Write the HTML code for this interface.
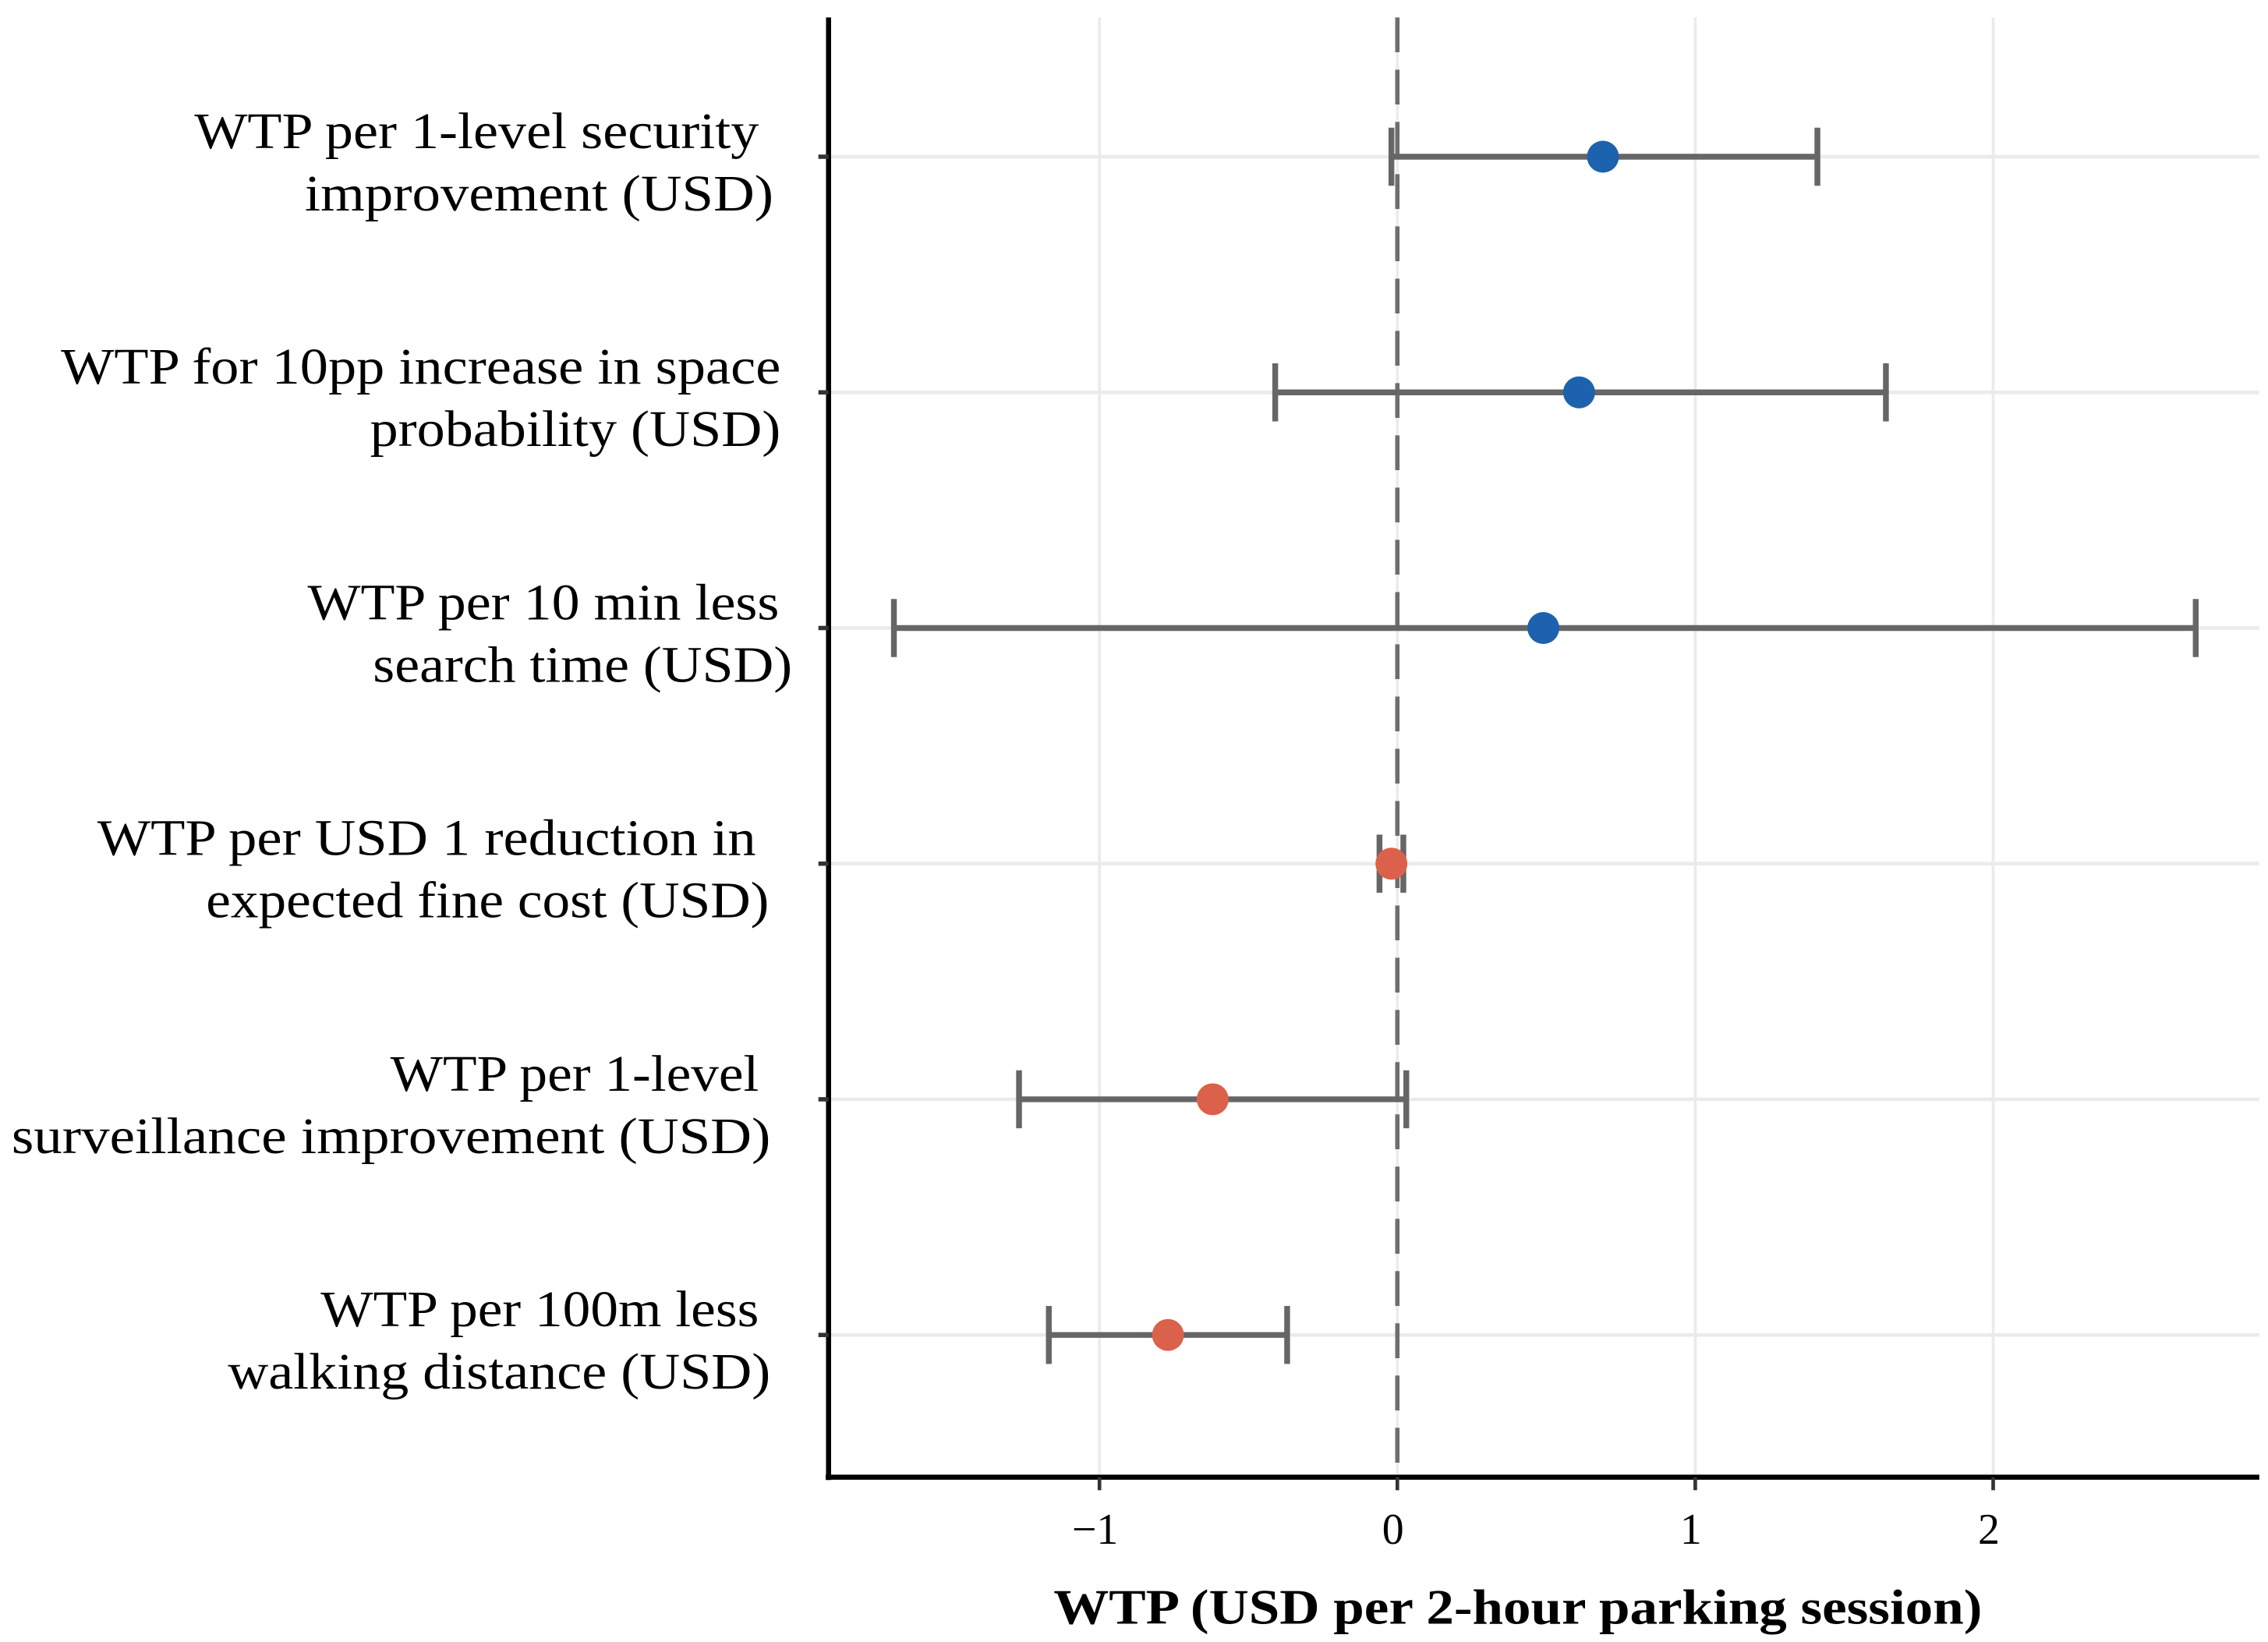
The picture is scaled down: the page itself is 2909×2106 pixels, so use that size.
<!DOCTYPE html>
<html><head><meta charset="utf-8"><style>
html,body{margin:0;padding:0;background:#fff;}
svg{display:block;}
text{font-family:"Liberation Serif",serif;fill:#000;}
</style></head><body>
<svg id="chart" width="2909" height="2106" viewBox="0 0 1563 1131.6" preserveAspectRatio="none" xmlns="http://www.w3.org/2000/svg"></svg>
<script>
const labelLine1 = ["WTP per 1-level security", "WTP for 10pp increase in space", "WTP per 10 min less", "WTP per USD 1 reduction in", "WTP per 1-level", "WTP per 100m less"];
const labelLine2 = ["improvement (USD)", "probability (USD)", "search time (USD)", "expected fine cost (USD)", "surveillance improvement (USD)", "walking distance (USD)"];
const estimates = [0.69, 0.61, 0.49, -0.02, -0.62, -0.77];
const lowerCI = [-0.02, -0.41, -1.69, -0.06, -1.27, -1.17];
const upperCI = [1.41, 1.64, 2.68, 0.02, 0.03, -0.37];
const signs = ["pos", "pos", "pos", "neg", "neg", "neg"];
const xTicks = [-1, 0, 1, 2];
const xTickLabels = ["\u22121", "0", "1", "2"];

const svgEl = document.getElementById('chart');
const NS = 'http://www.w3.org/2000/svg';
const plotLeft = 571, plotRight = 1557, plotTop = 12, plotBottom = 1018;
const xScale = v => 963 + v * 205.3;
const yScale = i => 108 + i * 162.4;
const lineStarts1 = [134, 42, 212, 67, 269, 221];
const lineEnds1 = [523, 538, 537, 521, 523, 523];
const lineStarts2 = [210, 255, 257, 142, 8, 157];
const lineEnds2 = [533, 538, 546, 530, 531, 531];
function mk(tag, attrs, parent) {
  const e = document.createElementNS(NS, tag);
  for (const k in attrs) e.setAttribute(k, attrs[k]);
  (parent || svgEl).appendChild(e);
  return e;
}
xTicks.forEach((t) => {
  const g = mk('line', {x1: xScale(t), x2: xScale(t), y1: plotTop, y2: plotBottom, stroke: '#ebebeb', 'stroke-width': 2});
  
  
});
estimates.forEach((v, i) => {
  const g = mk('line', {x1: plotLeft, x2: plotRight, y1: yScale(i), y2: yScale(i), stroke: '#ebebeb', 'stroke-width': 2.5});
  
  
});
const z = mk('line', {x1: xScale(0), x2: xScale(0), y1: plotTop, y2: plotBottom, stroke: '#6e6e6e', 'stroke-width': 3, 'stroke-dasharray': '24 12'});


const ya = mk('line', {x1: plotLeft, x2: plotLeft, y1: plotTop, y2: plotBottom + 2, stroke: '#000', 'stroke-width': 3.5});


const xa = mk('line', {x1: plotLeft - 2, x2: plotRight, y1: plotBottom, y2: plotBottom, stroke: '#000', 'stroke-width': 3.5});


xTicks.forEach((t, i) => {
  const tk = mk('line', {x1: xScale(t), x2: xScale(t), y1: plotBottom, y2: plotBottom + 9, stroke: '#333', 'stroke-width': 2.5});
  
  
  const tl = mk('text', {x: xScale(t) - 3, y: 1064, 'text-anchor': 'middle', 'font-size': 30});
  tl.textContent = xTickLabels[i];
  
  
});
estimates.forEach((v, i) => {
  const tk = mk('line', {x1: plotLeft - 7, x2: plotLeft, y1: yScale(i), y2: yScale(i), stroke: '#333', 'stroke-width': 3});
  
  
  const l1 = mk('text', {x: lineStarts1[i], y: yScale(i) - 6, 'font-size': 35, textLength: lineEnds1[i] - lineStarts1[i], lengthAdjust: 'spacingAndGlyphs'});
  l1.textContent = labelLine1[i];
  
  
  const l2 = mk('text', {x: lineStarts2[i], y: yScale(i) + 37, 'font-size': 35, textLength: lineEnds2[i] - lineStarts2[i], lengthAdjust: 'spacingAndGlyphs'});
  l2.textContent = labelLine2[i];
  
  
  const g = mk('g', {stroke: '#666', 'stroke-width': 4});
  
  
  mk('line', {x1: xScale(lowerCI[i]), x2: xScale(upperCI[i]), y1: yScale(i), y2: yScale(i)}, g);
  mk('line', {x1: xScale(lowerCI[i]), x2: xScale(lowerCI[i]), y1: yScale(i) - 20, y2: yScale(i) + 20}, g);
  mk('line', {x1: xScale(upperCI[i]), x2: xScale(upperCI[i]), y1: yScale(i) - 20, y2: yScale(i) + 20}, g);
  const c = mk('circle', {cx: xScale(v), cy: yScale(i), r: 11, fill: signs[i] === 'pos' ? '#1c62ae' : '#dc614b'});
  
  
});
const title = mk('text', {x: 726, y: 1119, 'font-size': 34, 'font-weight': 'bold', textLength: 640, lengthAdjust: 'spacingAndGlyphs'});
title.textContent = 'WTP (USD per 2-hour parking session)';


</script>
</body></html>
